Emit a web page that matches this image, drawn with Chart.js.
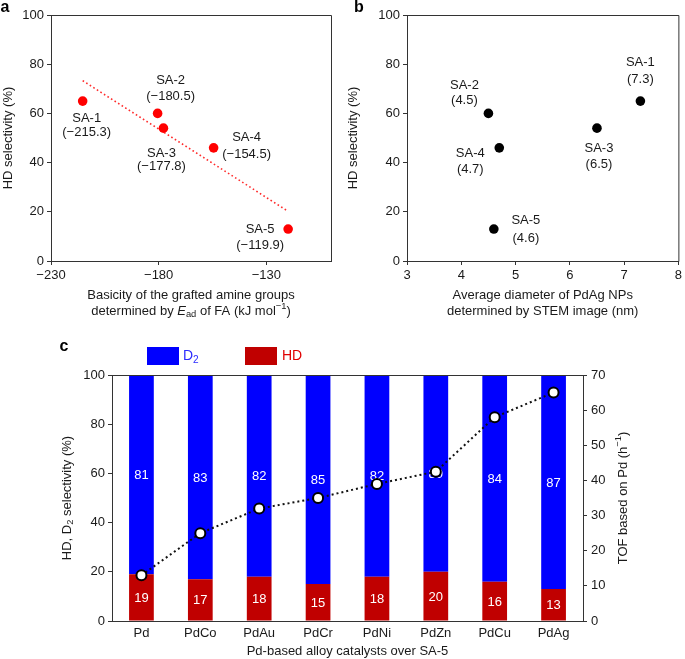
<!DOCTYPE html>
<html>
<head>
<meta charset="utf-8">
<script src="https://cdn.jsdelivr.net/npm/chart.js@4.4.1/dist/chart.umd.min.js"></script>
<style>
  body { margin: 0; background: #fff; }
  #wrap { position: relative; width: 685px; height: 659px; }
  canvas { position: absolute; }
</style>
</head>
<body>
<div id="wrap">
  <canvas id="chartA" width="345" height="325" style="left:0;top:0"></canvas>
  <canvas id="chartB" width="345" height="325" style="left:340px;top:0"></canvas>
  <canvas id="chartC" width="685" height="334" style="left:0;top:325px"></canvas>
</div>
<script>
// --- data ---
const samples = ['SA-1', 'SA-2', 'SA-3', 'SA-4', 'SA-5'];
const eadFA = [-215.3, -180.5, -177.8, -154.5, -119.9];      // kJ/mol
const hdSelectivity = [65, 60, 54, 46, 13];                   // %
const diameter = [7.3, 4.5, 6.5, 4.7, 4.6];                   // nm
const trendX = [-215.3, -119.9];
const trendY = [73.3, 20.2];
const ticksA = [-230, -180, -130];

const catalysts = ['Pd', 'PdCo', 'PdAu', 'PdCr', 'PdNi', 'PdZn', 'PdCu', 'PdAg'];
const hdShare = [19, 17, 18, 15, 18, 20, 16, 13];
const d2Share = [81, 83, 82, 85, 82, 80, 84, 87];
const tofPd = [13, 25, 32, 35, 39, 42.5, 58, 65];

// --- style ---
const FONT = "'Liberation Sans', Arial, sans-serif";
const AXIS = '#333';
const TEXT = '#1a1a1a';
Chart.defaults.font.family = FONT;
Chart.defaults.font.size = 13;
Chart.defaults.color = TEXT;
Chart.defaults.animation = false;

const minus = s => String(s).replace('-', '\u2212');

function runFont(style, size) {
  const small = style === 'sub' || style === 'sup';
  return (style === 'i' ? 'italic ' : '') + (small ? size * 0.72 : size) + 'px ' + FONT;
}

// draws text made of runs: ['txt', ''|'i'|'sub'|'sup']
function drawRuns(ctx, runs, cx, cy, size, angle, color) {
  ctx.save();
  ctx.translate(cx, cy);
  ctx.rotate(angle || 0);
  ctx.textBaseline = 'middle';
  ctx.textAlign = 'left';
  ctx.fillStyle = color || TEXT;
  let total = 0;
  runs.forEach(r => { ctx.font = runFont(r[1], size); total += ctx.measureText(r[0]).width; });
  let x = -total / 2;
  runs.forEach(r => {
    ctx.font = runFont(r[1], size);
    const dy = r[1] === 'sub' ? size * 0.3 : r[1] === 'sup' ? -size * 0.35 : 0;
    ctx.fillText(r[0], x, dy);
    x += ctx.measureText(r[0]).width;
  });
  ctx.restore();
}

function runsWidth(ctx, runs, size) {
  let w = 0;
  ctx.save();
  runs.forEach(r => { ctx.font = runFont(r[1], size); w += ctx.measureText(r[0]).width; });
  ctx.restore();
  return w;
}

// panel letters, axis titles, frame, point notes, legend
const figureText = {
  id: 'figureText',
  afterDatasetsDraw(chart, args, o) {
    const ctx = chart.ctx;
    if (o.notes) {
      const meta = chart.getDatasetMeta(0);
      ctx.save();
      ctx.font = '13px ' + FONT;
      ctx.fillStyle = TEXT;
      ctx.textAlign = 'center';
      ctx.textBaseline = 'middle';
      meta.data.forEach((pt, i) => {
        const off = o.notes.offsets[i];
        ctx.fillText(o.notes.names[i], pt.x + off[0], pt.y + off[1]);
        ctx.fillText(o.notes.values[i], pt.x + off[0], pt.y + off[2]);
      });
      ctx.restore();
    }
  },
  afterDraw(chart, args, o) {
    const ctx = chart.ctx, a = chart.chartArea;
    ctx.save();
    ctx.strokeStyle = AXIS;
    ctx.lineWidth = 1;
    ctx.beginPath();
    if (o.frame === 'box') {
      ctx.rect(a.left + 0.5, a.top + 0.5, a.right - a.left, a.bottom - a.top);
    } else if (o.frame === 'top') {
      ctx.moveTo(a.left, a.top + 0.5);
      ctx.lineTo(a.right, a.top + 0.5);
    }
    ctx.stroke();
    ctx.restore();

    ctx.save();
    ctx.font = 'bold 16px ' + FONT;
    ctx.fillStyle = '#000';
    ctx.textAlign = 'center';
    ctx.textBaseline = 'middle';
    ctx.fillText(o.panel.text, o.panel.x, o.panel.y);
    ctx.restore();

    const cx = (a.left + a.right) / 2, cy = (a.top + a.bottom) / 2;
    o.xTitle.forEach((line, i) => drawRuns(ctx, line, cx, o.xTitleY[i], 13));
    drawRuns(ctx, o.yTitle, o.yTitleX, cy, 13, -Math.PI / 2);
    if (o.y2Title) drawRuns(ctx, o.y2Title, o.y2TitleX, cy, 13, -Math.PI / 2);

    if (o.legend) {
      const L = o.legend;
      L.items.forEach(it => {
        const ds = chart.data.datasets[it.ds];
        ctx.fillStyle = ds.backgroundColor;
        ctx.fillRect(it.x, L.y, L.w, L.h);
        const w = runsWidth(ctx, it.runs, L.size);
        drawRuns(ctx, it.runs, it.tx + w / 2, L.y + L.h / 2, L.size, 0, it.color);
      });
    }
  }
};

// white value labels in the middle of every bar segment
const barValues = {
  id: 'barValues',
  afterDatasetDraw(chart, args) {
    if (args.meta.type !== 'bar') return;
    const ctx = chart.ctx;
    const ds = chart.data.datasets[args.index];
    ctx.save();
    ctx.font = '13px ' + FONT;
    ctx.fillStyle = '#fff';
    ctx.textAlign = 'center';
    ctx.textBaseline = 'middle';
    args.meta.data.forEach((el, i) => {
      const p = el.getProps(['x', 'y', 'base'], true);
      ctx.fillText(String(ds.data[i]), p.x, (p.y + p.base) / 2 + 1);
    });
    ctx.restore();
  }
};

function axis(extra) {
  return Object.assign({
    border: { display: true, color: AXIS, width: 1 },
    grid: { drawOnChartArea: false, drawTicks: true, tickLength: 4, tickColor: AXIS },
  }, extra);
}

// ---------- panel a ----------
new Chart(document.getElementById('chartA'), {
  type: 'scatter',
  data: {
    datasets: [
      {
        label: 'HD selectivity',
        data: samples.map((s, i) => ({ x: eadFA[i], y: hdSelectivity[i] })),
        backgroundColor: '#ff0000',
        borderWidth: 0,
        pointRadius: 4.8,
        order: 0
      },
      {
        label: 'trend',
        type: 'line',
        data: trendX.map((x, i) => ({ x: x, y: trendY[i] })),
        borderColor: '#ff2a2a',
        borderWidth: 1.6,
        borderDash: [1.6, 2.6],
        pointRadius: 0,
        order: 1
      }
    ]
  },
  options: {
    responsive: false,
    events: [],
    layout: { padding: { top: 15, right: 14, left: 0, bottom: 0 } },
    scales: {
      x: axis({
        type: 'linear', min: -230, max: -100,
        afterBuildTicks: s => { s.ticks = ticksA.map(v => ({ value: v })); },
        afterFit: s => { s.height = 64; },
        ticks: { padding: 3, callback: v => minus(v) }
      }),
      y: axis({
        min: 0, max: 100,
        afterFit: s => { s.width = 51; },
        ticks: { stepSize: 20, padding: 3 }
      })
    },
    plugins: {
      legend: { display: false },
      tooltip: { enabled: false },
      figureText: {
        frame: 'box',
        panel: { text: 'a', x: 5, y: 8 },
        xTitle: [
          [['Basicity of the grafted amine groups', '']],
          [['determined by ', ''], ['E', 'i'], ['ad', 'sub'], [' of FA (kJ mol', ''], ['\u22121', 'sup'], [')', '']]
        ],
        xTitleY: [295, 311],
        yTitle: [['HD selectivity (%)', '']],
        yTitleX: 8,
        notes: {
          names: samples,
          values: eadFA.map(v => '(' + minus(v.toFixed(1)) + ')'),
          offsets: [[4, 17, 31], [13, -33, -17], [-2, 25, 38], [33, -10, 7], [-28, 0, 16]]
        }
      }
    }
  },
  plugins: [figureText]
});

// ---------- panel b ----------
new Chart(document.getElementById('chartB'), {
  type: 'scatter',
  data: {
    datasets: [{
      label: 'HD selectivity',
      data: samples.map((s, i) => ({ x: diameter[i], y: hdSelectivity[i] })),
      backgroundColor: '#000',
      borderWidth: 0,
      pointRadius: 4.8
    }]
  },
  options: {
    responsive: false,
    events: [],
    layout: { padding: { top: 15, right: 4, left: 0, bottom: 0 } },
    scales: {
      x: axis({
        type: 'linear', min: 3, max: 8,
        afterFit: s => { s.height = 64; },
        ticks: { stepSize: 1, padding: 3 }
      }),
      y: axis({
        min: 0, max: 100,
        afterFit: s => { s.width = 67; },
        ticks: { stepSize: 20, padding: 3 }
      })
    },
    plugins: {
      legend: { display: false },
      tooltip: { enabled: false },
      figureText: {
        frame: 'box',
        panel: { text: 'b', x: 19, y: 8 },
        xTitle: [
          [['Average diameter of PdAg NPs', '']],
          [['determined by STEM image (nm)', '']]
        ],
        xTitleY: [295, 311],
        yTitle: [['HD selectivity (%)', '']],
        yTitleX: 13,
        notes: {
          names: samples,
          values: diameter.map(v => '(' + v.toFixed(1) + ')'),
          offsets: [[0, -39, -22], [-24, -28, -13], [2, 20, 36], [-29, 6, 22], [32, -9, 9]]
        }
      }
    }
  },
  plugins: [figureText]
});

// ---------- panel c ----------
new Chart(document.getElementById('chartC'), {
  type: 'bar',
  data: {
    labels: catalysts,
    datasets: [
      {
        label: 'HD',
        data: hdShare,
        backgroundColor: '#c00000',
        barPercentage: 0.42,
        categoryPercentage: 1,
        order: 1
      },
      {
        label: 'D\u2082',
        data: d2Share,
        backgroundColor: '#0000ff',
        barPercentage: 0.42,
        categoryPercentage: 1,
        order: 1
      },
      {
        label: 'TOF',
        type: 'line',
        yAxisID: 'y2',
        data: tofPd,
        borderColor: '#111',
        borderWidth: 2,
        borderDash: [2, 3],
        pointRadius: 5,
        pointBackgroundColor: '#fff',
        pointBorderColor: '#000',
        pointBorderWidth: 2,
        order: 0
      }
    ]
  },
  options: {
    responsive: false,
    events: [],
    layout: { padding: { top: 50, right: 0, left: 0, bottom: 0 } },
    scales: {
      x: axis({
        stacked: true,
        grid: { drawOnChartArea: false, drawTicks: false },
        afterFit: s => { s.height = 38; },
        ticks: { padding: 5 }
      }),
      y: axis({
        stacked: true, min: 0, max: 100, position: 'left',
        afterFit: s => { s.width = 112; },
        ticks: { stepSize: 20, padding: 3 }
      }),
      y2: axis({
        min: 0, max: 70, position: 'right',
        afterFit: s => { s.width = 102; },
        ticks: { stepSize: 10, padding: 4 }
      })
    },
    plugins: {
      legend: { display: false },
      tooltip: { enabled: false },
      figureText: {
        frame: 'top',
        panel: { text: 'c', x: 64, y: 22 },
        xTitle: [[['Pd-based alloy catalysts over SA-5', '']]],
        xTitleY: [326],
        yTitle: [['HD, D', ''], ['2', 'sub'], [' selectivity (%)', '']],
        yTitleX: 67,
        y2Title: [['TOF based on Pd (h', ''], ['\u22121', 'sup'], [')', '']],
        y2TitleX: 623,
        legend: {
          y: 22, w: 32, h: 18, size: 14,
          items: [
            { ds: 1, x: 147, tx: 183, runs: [['D', ''], ['2', 'sub']], color: '#2a2aff' },
            { ds: 0, x: 245, tx: 282, runs: [['HD', '']], color: '#e00000' }
          ]
        }
      }
    }
  },
  plugins: [figureText, barValues]
});
</script>
</body>
</html>
